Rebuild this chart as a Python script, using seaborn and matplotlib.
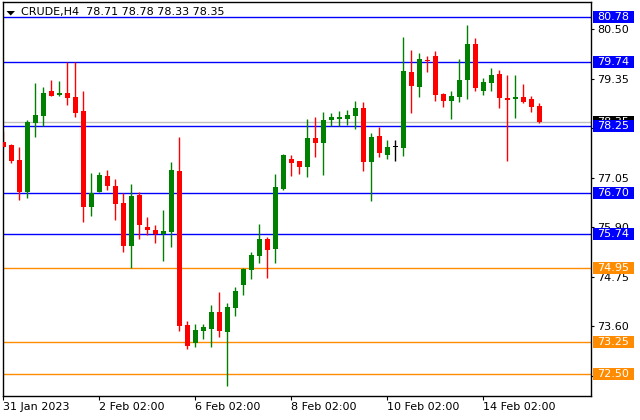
import numpy as np
import pandas as pd
import seaborn as sns
import matplotlib.pyplot as plt
from matplotlib.patches import Rectangle, Polygon
from matplotlib.transforms import blended_transform_factory

# H4 bars (oldest -> newest)
opens = [77.88, 77.81, 77.46, 76.72, 78.32, 78.48, 79.06, 78.97, 79.02, 78.92,
         78.60, 76.37, 76.72, 77.09, 76.86, 76.47, 75.47, 76.65, 75.91, 75.84,
         75.74, 75.79, 77.21, 73.63, 73.22, 73.50, 73.54, 73.94, 73.47, 74.03,
         74.56, 74.91, 75.23, 75.63, 75.40, 76.79, 77.49, 77.44, 77.30, 77.97,
         77.86, 78.39, 78.41, 78.41, 78.48, 78.67, 77.42, 78.02, 77.58, 77.76,
         77.74, 79.50, 79.16, 79.78, 79.88, 79.00, 78.83, 78.92, 79.32, 80.15,
         79.06, 79.25, 79.46, 78.90, 78.88, 78.92, 78.88, 78.71]
highs = [78.13, 77.83, 77.76, 78.39, 79.25, 79.16, 79.32, 79.30, 79.74, 79.74,
         79.06, 77.17, 77.18, 77.23, 77.02, 76.70, 76.90, 76.72, 76.14, 75.95,
         76.30, 77.42, 78.00, 73.73, 73.66, 73.66, 74.10, 74.40, 74.14, 74.52,
         74.95, 75.33, 75.98, 75.68, 77.14, 77.60, 77.58, 77.44, 78.41, 78.46,
         78.58, 78.55, 78.60, 78.62, 78.83, 78.81, 78.09, 78.23, 77.93, 77.93,
         80.32, 80.01, 79.94, 79.88, 79.99, 79.02, 79.06, 79.81, 80.59, 80.29,
         79.36, 79.60, 79.55, 79.43, 79.43, 79.23, 78.95, 78.78]
lows = [77.74, 77.39, 76.54, 76.59, 78.00, 78.25, 78.95, 78.95, 78.74, 78.46,
        76.03, 76.16, 76.72, 76.77, 76.07, 75.33, 74.95, 75.63, 75.72, 75.54,
        75.12, 75.44, 73.50, 73.08, 73.12, 73.31, 73.12, 73.36, 72.22, 73.84,
        74.33, 74.70, 75.07, 74.72, 75.07, 76.77, 77.09, 77.14, 77.07, 77.53,
        77.11, 78.25, 78.25, 78.27, 78.18, 77.21, 76.51, 77.53, 77.49, 77.44,
        77.56, 78.55, 78.92, 79.50, 78.83, 78.69, 78.41, 78.81, 78.88, 79.06,
        78.97, 79.06, 78.67, 77.44, 78.44, 78.78, 78.58, 78.33]
closes = [77.76, 77.44, 76.72, 78.35, 78.51, 79.02, 78.95, 79.02, 78.90, 78.55,
          76.37, 76.70, 77.11, 76.86, 76.45, 75.47, 76.63, 75.95, 75.84, 75.74,
          75.81, 77.23, 73.61, 73.15, 73.52, 73.59, 73.94, 73.50, 74.05, 74.42,
          74.93, 75.26, 75.63, 75.37, 76.84, 77.58, 77.39, 77.30, 77.97, 77.86,
          78.39, 78.46, 78.46, 78.51, 78.67, 77.42, 78.00, 77.62, 77.76, 77.76,
          79.53, 79.18, 79.81, 79.76, 78.97, 78.83, 78.95, 79.32, 80.15, 79.13,
          79.27, 79.43, 78.90, 78.85, 78.92, 78.81, 78.69, 78.35]

date_labels = ["31 Jan 2023", "2 Feb 02:00", "6 Feb 02:00",
               "8 Feb 02:00", "10 Feb 02:00", "14 Feb 02:00"]
date_bars = [0, 12, 24, 36, 48, 60]

blue_levels = [80.78, 79.74, 78.25, 76.70, 75.74]
orange_levels = [74.95, 73.25, 72.50]
bid = 78.35
price_ticks = [80.50, 79.35, 78.20, 77.05, 75.90, 74.75, 73.60, 72.45]
# 78.20 and 72.45 sit fully under the level boxes on the scale
hidden_ticks = [78.20, 72.45]

sns.set_theme(style="white")
plt.rcParams['font.family'] = ['DejaVu Sans']

df = pd.DataFrame({"open": opens, "high": highs, "low": lows, "close": closes})
df["bar"] = np.arange(len(df))
df["color"] = np.where(df["close"] > df["open"], "#008000",
                       np.where(df["close"] < df["open"], "#ff0000", "#000000"))

W, H = 640, 420
fig = plt.figure(figsize=(6.4, 4.2), dpi=100)
fig.patch.set_facecolor("white")
ax = fig.add_axes([2.5 / W, 1 - 396 / H, (591 - 2.5) / W, (396 - 2) / H])
ax.set_facecolor("white")
ax.set_xlim(-0.125, 73.44)
ax.set_ylim(71.986, 81.128)

# level lines
for v in blue_levels:
    ax.axhline(v, color="#0000ff", lw=1, zorder=1)
for v in orange_levels:
    ax.axhline(v, color="#ff8c00", lw=1, zorder=1)
ax.axhline(bid, color="#c0c0c0", lw=1, zorder=1)

# candles
ax.vlines(df["bar"], df["low"], df["high"], colors=df["color"], lw=1, zorder=2)
body_lo = np.minimum(df["open"], df["close"])
body_h = np.maximum((df["close"] - df["open"]).abs(), 0.022)
ax.bar(df["bar"], body_h, bottom=body_lo, width=0.625, color=df["color"],
       linewidth=0, zorder=3)

# axes styling
for s in ax.spines.values():
    s.set_color("black")
    s.set_linewidth(1)
ax.yaxis.tick_right()
ax.set_yticks(price_ticks)
ax.set_yticklabels(["" if t in hidden_ticks else f"{t:.2f}" for t in price_ticks])
ax.tick_params(axis="y", right=True, left=False, labelright=True, labelleft=False,
               direction="out", length=2.5, width=0.8, pad=2, labelsize=8,
               colors="black")
ax.set_xticks(date_bars)
ax.set_xticklabels(date_labels, ha="left")
ax.tick_params(axis="x", bottom=True, direction="out", length=3, width=0.8,
               pad=1.5, labelsize=8, colors="black")
ax.grid(False)

# price labels on the right scale
tr = blended_transform_factory(fig.transFigure, ax.transData)
box_h = 12 / 43.1


def price_box(v, col, z):
    ax.add_patch(Rectangle((593 / W, v - box_h / 2), 41 / W, box_h,
                           transform=tr, facecolor=col, edgecolor="none",
                           clip_on=False, zorder=z))
    ax.text(613.5 / W, v, f"{v:.2f}", transform=tr, color="white", fontsize=8,
            ha="center", va="center", clip_on=False, zorder=z + 0.5)


price_box(bid, "black", 5)
for v in blue_levels:
    price_box(v, "#0000ff", 6)
for v in orange_levels:
    price_box(v, "#ff8c00", 6)

# header
fig.text(21 / W, 1 - 12.5 / H,
         f"CRUDE,H4  {opens[-1]:.2f} {highs[-1]:.2f} {lows[-1]:.2f} {closes[-1]:.2f}",
         fontsize=8, ha="left", va="center", color="black")
fig.add_artist(Polygon([[6.5 / W, 1 - 11 / H], [15 / W, 1 - 11 / H],
                        [10.75 / W, 1 - 15.5 / H]], closed=True,
                       transform=fig.transFigure, facecolor="black",
                       edgecolor="none"))

fig.savefig("out.png", dpi=100)
